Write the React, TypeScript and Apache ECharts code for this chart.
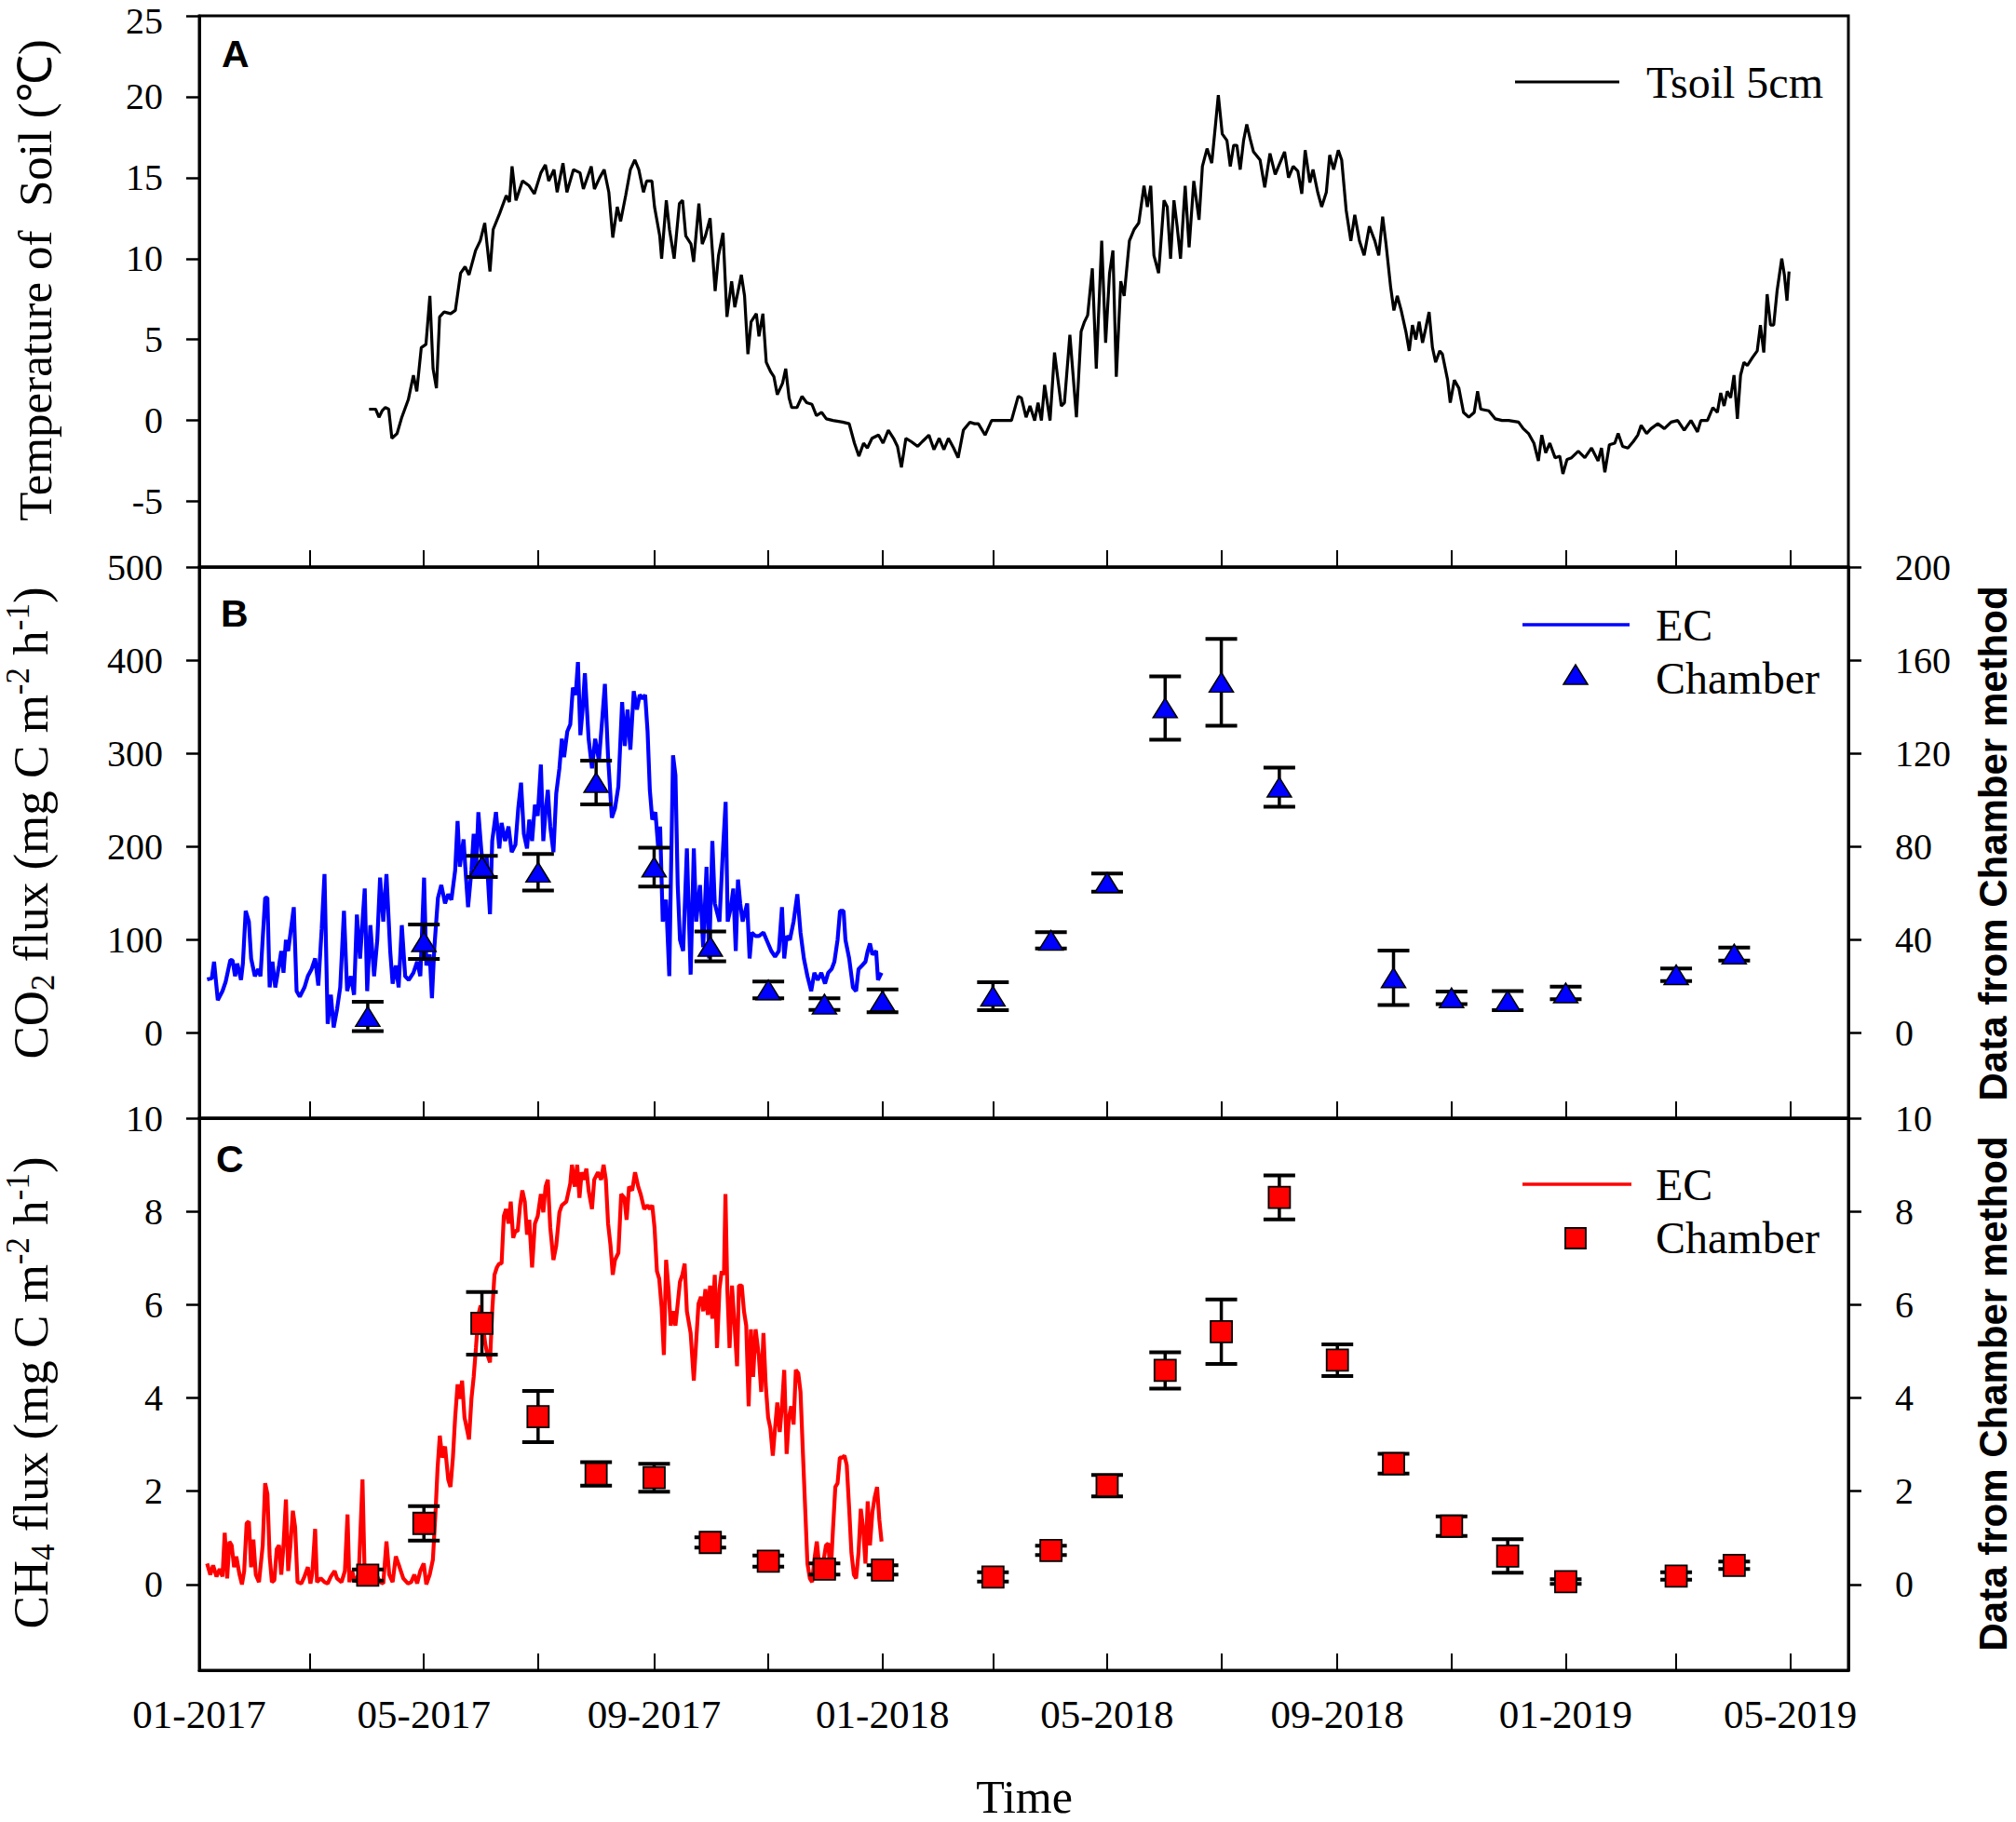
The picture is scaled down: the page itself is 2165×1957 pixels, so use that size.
import React, { useEffect, useRef } from "react";
import * as echarts from "echarts";

// ---------- data ----------
// x values: days since 01-01-2017
const xTickLabels = ["01-2017", "05-2017", "09-2017", "01-2018", "05-2018", "09-2018", "01-2019", "05-2019"];
const xMinorTickLabels = ["03-2017", "07-2017", "11-2017", "03-2018", "07-2018", "11-2018", "03-2019"];
const xEndMonth = "06-2019";

const tempTicks = [-5, 0, 5, 10, 15, 20, 25];
const co2Ticks = [0, 100, 200, 300, 400, 500];
const co2ChamberTicks = [0, 40, 80, 120, 160, 200];
const ch4Ticks = [0, 2, 4, 6, 8, 10];

const tsoil5cm = [
  [90.7,0.7],[94.2,0.7],[96,0.2],[97.7,0.6],[99.4,0.8],[101.2,0.7],[102.9,-1.1],[105.7,-0.8],[108.2,0.2],[111.7,1.3],[114.4,2.8],[116.2,1.8],[118.6,4.5],[121.1,4.7],[123.2,7.7],[124.9,3.2],[126.7,2.0],[128.4,6.4],[130.8,6.7],[134.3,6.6],[136.8,6.8],[139.6,9.1],[142,9.5],[144.1,9.0],[147.6,10.5],[150.1,11.1],[152.5,12.2],[155.3,9.2],[157,11.8],[160.5,12.8],[164,13.9],[165.7,13.5],[167.1,15.7],[169.2,13.6],[172.7,14.8],[176.2,14.5],[179,14.0],[182.5,15.3],[184.9,15.8],[186.7,14.8],[189.5,15.5],[191.2,14.1],[194.3,15.9],[196.4,14.1],[199.9,15.5],[203.4,15.3],[205.2,14.3],[209.4,15.7],[211.1,14.3],[213.9,15.0],[216.3,15.5],[218.8,14.1],[220.9,11.3],[223.3,13.2],[225.1,12.3],[227.8,13.9],[230.3,15.5],[232.7,16.1],[234.8,15.5],[237.3,14.1],[239,14.8],[241.8,14.8],[243.2,13.2],[246,11.4],[247,10.0],[249.5,13.6],[251.2,11.8],[253.7,10.0],[256.5,13.4],[258.2,13.6],[259.9,11.4],[262.7,10.9],[264.1,9.8],[266.9,13.4],[268.7,10.9],[270.4,11.4],[272.9,12.5],[275.6,8.0],[277.4,10.2],[279.8,11.6],[281.9,6.4],[284.4,8.6],[286.1,7.0],[289.6,9.0],[291.3,7.7],[293.1,4.1],[294.8,6.1],[297.6,6.6],[299,5.2],[301.1,6.6],[302.9,3.6],[305.3,3.0],[307,2.7],[308.8,1.6],[311.6,2.3],[313.3,3.2],[315.1,1.4],[316.5,0.8],[319.3,0.8],[322,1.5],[324.5,1.1],[327.3,1.0],[329.7,0.3],[332.5,0.5],[335,0.1],[338.5,0],[343.7,-0.1],[347.2,-0.2],[350,-1.4],[352.4,-2.2],[354.9,-1.4],[356.9,-1.7],[359.4,-1.1],[362.9,-0.9],[365.3,-1.4],[368.1,-0.6],[370.9,-1.1],[373,-1.6],[375.1,-2.9],[377.5,-1.1],[380.3,-1.3],[383.8,-1.6],[386.3,-1.3],[389.8,-0.9],[392.5,-1.8],[395.3,-1.1],[397.8,-1.8],[400.2,-1.1],[403,-1.7],[405.4,-2.3],[408.2,-0.6],[411.7,-0.1],[414.2,-0.2],[416.2,-0.2],[419.8,-0.9],[423.3,0],[433.9,0],[437.5,1.5],[439.2,1.4],[441.7,0.2],[443.8,0.9],[446.3,0],[448.1,1.1],[449.9,0],[451.6,2.2],[454.5,0],[456.9,4.2],[460.5,0.9],[462.2,1.1],[465.1,5.3],[468.6,0.2],[471.1,5.5],[472.9,6.1],[474.6,6.5],[477.1,9.4],[479.2,3.2],[482.1,11.1],[484.2,4.8],[486.3,9.1],[488.1,10.5],[489.9,2.7],[492.3,8.6],[494.1,7.7],[496.9,11.1],[499.4,11.8],[501.9,12.2],[504.7,14.5],[506.5,13.2],[508.3,14.5],[510,10.2],[512.5,9.1],[515.4,13.6],[517.1,13.2],[518.9,10.0],[520.7,13.6],[522.4,12.0],[524.2,10.0],[526.7,14.5],[528.8,10.7],[531.3,14.8],[534.1,12.4],[535.9,15.7],[538.4,16.8],[540.9,15.9],[543,18.4],[544.4,20.1],[546.5,17.7],[549,17.3],[550.8,15.7],[552.6,17.0],[554.3,17.0],[556.1,15.5],[557.9,17.3],[559.6,18.3],[561.4,17.4],[563.2,16.6],[566.7,16.1],[569.2,14.4],[572,16.5],[574.8,15.2],[577.3,15.9],[579.8,16.6],[581.9,15.0],[584.4,15.7],[586.9,15.4],[589,14.0],[590.8,16.7],[593.3,14.7],[595,15.5],[597.5,14.1],[599.6,13.2],[602.1,14.1],[603.9,16.4],[606,15.5],[608.5,16.7],[610.3,16.1],[612.7,13.0],[615.2,11.1],[617.3,12.7],[619.8,11.1],[622.3,10.2],[625.1,12.0],[628,11.1],[630.1,10.2],[632.2,12.6],[634,10.9],[636.5,8.2],[638.2,6.8],[640,7.7],[642.1,6.8],[644.6,5.5],[646.4,4.3],[648.1,5.9],[649.9,5.0],[651.7,6.1],[653.5,4.8],[655.2,5.7],[657,6.7],[658.8,4.5],[660.5,3.6],[662.7,4.3],[664.1,4.1],[666.9,2.5],[668.3,1.1],[670.5,2.5],[672.9,2.0],[675.4,0.5],[678.2,0.2],[681.1,0.5],[682.9,1.8],[684.6,0.7],[688.9,0.6],[692.4,0.1],[696,0],[699.5,0],[704.8,-0.1],[707.3,-0.5],[710.1,-0.8],[713,-1.4],[715.4,-2.5],[717.2,-0.9],[719.3,-2.0],[721.5,-1.4],[724.3,-2.3],[726.8,-2.2],[728.5,-3.3],[730.7,-2.4],[733.1,-2.3],[736.7,-1.9],[740.2,-2.3],[743.8,-1.7],[747.3,-2.5],[749.1,-1.7],[750.9,-3.2],[753.3,-1.5],[756.2,-1.4],[758,-0.8],[760.4,-1.6],[763.2,-1.7],[766.1,-1.3],[768.5,-0.9],[770.3,-0.3],[773.2,-0.8],[775.6,-0.5],[779.2,-0.2],[782.7,-0.5],[786.3,-0.1],[789.8,0],[793.3,-0.6],[796.9,0],[800.4,-0.7],[802.2,0],[805.7,0],[808.6,0.8],[811,0.5],[812.8,1.7],[814.6,0.9],[816.3,1.8],[818.1,1.4],[819.9,2.8],[821.7,0.1],[823.4,2.8],[825.2,3.6],[827,3.4],[829.8,3.9],[832.3,4.3],[834,5.9],[835.8,4.2],[837.6,7.8],[839.4,5.9],[841.1,5.9],[842.9,8.0],[845.4,10.0],[846.8,9.0],[848.2,7.4],[849.3,9.2]
];

const co2EC = [
  [4.2,57.6],[6.7,58.8],[7.9,76.5],[9.9,35.3],[12.4,45],[14.1,55],[16.6,78.4],[17.8,78],[19.1,61],[20.3,74.5],[22.3,57],[23.3,74.5],[24.8,131],[26.5,119.6],[27.7,80],[29.7,61],[31.5,68.6],[32.7,61],[35.2,145],[36.4,145],[37.6,49],[39.1,76.5],[40.6,49],[42.6,72.5],[43.8,88],[45,64.7],[46.3,100],[47.5,88],[49,111.8],[50.5,135],[52,45],[53.7,39],[56.2,49],[58,61],[60,68.6],[61.9,80],[63.6,51],[65.4,111.8],[66.9,170.6],[68.6,9.8],[70.3,41],[71.8,5.9],[73.6,25.5],[75.3,49],[77.3,131],[79,45],[81,61],[82.7,41],[84.2,127],[85.9,80],[87.2,119.6],[88.4,155],[89.7,45],[91.4,115.7],[93.4,61],[95.1,100],[96.6,166.7],[98.3,119.6],[100,170.6],[102,88],[103.3,53],[105,72.5],[106.5,49],[108.2,115.7],[110,61],[111.9,57],[114.4,64.7],[116.4,76.5],[118.1,61],[120.1,166.7],[121.3,72.5],[123.1,84.3],[124.3,37.3],[125.6,92],[127.5,145],[129.3,158.8],[131.3,139],[133,149],[134.7,143],[136.7,174.5],[138,227.5],[139.2,178.4],[141.2,207.8],[142.1,178.4],[143.6,135],[145.4,174.5],[146.6,213.7],[147.8,170.6],[149.1,237],[150.6,198],[152,166.7],[153.5,190],[155.3,127.5],[156.5,206],[158.5,237],[160.3,198],[161.5,225.5],[163.4,206],[165.2,221.6],[166.9,194],[168.9,202],[170.4,241],[171.9,268.6],[173.4,213.7],[175.1,198],[176.3,229],[177.8,206],[179.3,245],[180.8,233],[182.5,288],[183.8,206],[185,237],[186.2,260.8],[187.5,221.6],[189.2,194],[190.7,257],[192.4,284],[193.7,315.7],[194.9,296],[196.6,323.5],[198.2,331],[199.6,370.6],[201.1,362.7],[202.3,398],[203.6,319.6],[204.8,347],[206,386],[208,315.7],[209.8,284],[211.5,315.7],[213.5,292],[215.2,335],[216.7,374.5],[218.4,296],[220.4,231],[222.1,241],[223.9,264.7],[225.9,355],[227.3,308],[228.8,347],[230.3,304],[232.1,366.7],[233.8,347],[235.3,362.7],[237,358.8],[238.2,362.7],[239.5,323.5],[240.7,260.8],[242,229],[243.7,237],[245.2,198],[246.2,221.6],[247.6,119.6],[249.4,143],[251.1,61],[251.9,158.8],[253.1,298],[254.4,276.5],[255.6,158.8],[256.8,100],[258.5,88],[260.5,198],[262.5,62.7],[264.2,198],[265.5,119.6],[267.5,158.8],[269.2,92],[271,178.4],[272.4,80],[274.1,206],[275.4,139],[277.9,119.6],[279.6,190],[281.2,248],[282.3,119.6],[284,135],[285.3,155],[286.6,88],[287.8,164.7],[289,139],[290.3,119.6],[292.7,139],[294,80],[295.2,107.8],[297.2,104],[299,104],[301.4,107.8],[303.9,96],[305.6,88],[307.6,82],[309.6,88],[311.3,135],[312.5,80],[313.8,104],[315.5,100],[317.5,119.6],[319.5,149],[321.2,107.8],[323,80],[324.9,61],[326.9,45],[328.6,64.7],[330.4,57],[332.3,64.7],[334.3,53],[336,64.7],[337.8,68.6],[339.3,76.5],[341,100],[342.3,131],[344.2,131],[345.2,100],[347.2,80],[349.2,49],[350.9,45],[352.2,68.6],[354.1,72.5],[355.9,76.5],[357.1,88],[358.3,96],[359.6,84.3],[361.6,88],[362.6,57],[364.5,64.7]
];

const ch4EC = [
  [4.2,0.45],[5.9,0.21],[7.4,0.41],[9.2,0.17],[10.9,0.33],[12.4,0.17],[13.6,1.11],[14.9,0.13],[16.1,0.92],[17.3,0.84],[18.6,0.37],[19.8,0.6],[21.5,0.21],[22.8,0],[24,0.29],[25.3,1.31],[26.5,1.35],[27.7,0.37],[28.9,0.96],[30.2,0.21],[31.9,0.05],[33.9,0.84],[35.2,2.17],[36.4,1.94],[37.6,0.6],[38.8,0.05],[40.1,0.09],[41.4,0.76],[42.6,0.84],[43.8,0.21],[45,0.84],[46.3,1.82],[47.5,0.29],[48.7,0.84],[50,1.58],[51.2,1.23],[52.5,0.05],[54.5,0.02],[56.2,0.17],[58,0.37],[59.4,0.02],[60.4,0.25],[61.9,1.19],[62.9,0.05],[64.9,0.13],[66.9,0.05],[68.6,0.02],[70.3,0.17],[72.3,0.29],[73.6,0.13],[76,0.05],[77.8,0.29],[79.2,1.5],[80.2,0.05],[81.7,0.29],[83,0.05],[85.2,0.21],[87.2,2.25],[88.4,0.13],[90.9,0.13],[92.6,0.05],[94.6,0.21],[96.6,0.05],[98.3,0.02],[100,0.92],[101.5,0.21],[103.3,0.05],[105,0.6],[107,0.37],[109,0.13],[111.5,0.02],[113.2,0.05],[114.9,0.21],[116.4,0.02],[118.1,0.29],[119.9,0.45],[121.3,0],[123.1,0.21],[124.8,0.53],[126.3,1.62],[127.3,2.49],[128.5,3.19],[129.8,2.72],[131.3,2.96],[133,2.25],[134.2,2.09],[135.5,2.72],[136.7,3.58],[138,4.29],[139.2,3.98],[140.4,4.37],[141.7,3.58],[142.9,3.35],[144.1,3.11],[145.4,3.98],[146.6,4.45],[147.8,5.07],[149.1,5.78],[150.3,5.98],[151.6,5.55],[152.8,5.15],[154,4.92],[155.3,4.76],[156.5,5.86],[157.7,6.64],[159,6.8],[160.2,6.88],[161.5,6.88],[162.7,7.9],[163.9,8.05],[165.2,7.74],[166.4,8.21],[167.7,7.43],[168.9,7.58],[170.1,7.58],[171.4,8.13],[172.6,8.45],[173.9,8.21],[175.1,7.5],[176.3,7.82],[177.8,6.8],[179.3,7.74],[180.8,7.9],[182.5,8.37],[183.8,7.98],[185,8.53],[186.2,8.68],[187.5,7.66],[189.2,6.96],[190.7,7.27],[192.4,7.98],[193.7,8.13],[196.1,8.21],[198.2,8.6],[199.1,9.0],[200.6,8.53],[201.9,9.0],[203.1,8.29],[204.3,8.84],[205.6,8.68],[206.8,8.92],[208,8.45],[209.8,8.05],[211,8.68],[213,8.84],[214.7,8.68],[216,9.0],[217.2,8.68],[218.4,7.74],[219.7,7.27],[220.9,6.64],[222.1,6.96],[223.9,7.11],[225.4,8.37],[227.1,8.29],[228.3,7.82],[229.6,8.53],[231.3,8.45],[232.8,8.84],[234.5,8.53],[235.8,8.37],[237.7,8.05],[239.5,8.13],[240.7,8.05],[242,8.13],[243.2,7.66],[244.5,6.72],[245.7,6.56],[247,5.94],[248.2,4.92],[249.4,6.96],[250.7,6.33],[251.9,5.55],[253.1,5.86],[254.4,5.55],[255.6,6.02],[256.8,6.49],[258.1,6.64],[259.3,6.88],[260.5,5.86],[262.5,5.39],[264.2,4.37],[265.5,5.23],[266.7,6.02],[268,6.17],[269.2,5.86],[270.4,6.33],[271.7,5.78],[272.9,6.41],[274.1,5.7],[275.4,6.64],[276.6,5.07],[277.9,6.33],[279.1,6.72],[280.3,6.64],[281.1,8.37],[282.1,6.33],[283.3,5.07],[284.6,6.41],[286,5.55],[287.3,4.68],[288.3,6.41],[289.8,6.41],[291,5.86],[292.2,5.55],[293.5,3.82],[294.7,5.47],[295.9,4.45],[297.2,5.47],[298.9,4.92],[300.2,4.13],[301.4,5.39],[302.6,4.29],[303.9,3.58],[305.1,3.35],[306.4,2.76],[307.6,3.35],[308.8,3.9],[310.1,3.27],[311.3,3.82],[312.5,4.6],[313.8,2.8],[315,3.58],[316.2,3.82],[317.5,3.43],[318.7,4.6],[320,4.53],[321.2,4.13],[322.5,2.8],[323.7,1.62],[324.9,0.45],[326.2,0.13],[327.4,0.05],[328.6,0.53],[329.9,0.92],[331.1,0.45],[332.3,0.21],[333.6,0.53],[334.8,0.84],[336,0.88],[337.3,0.21],[338.5,1.15],[339.8,2.09],[341,2.17],[342.2,2.72],[343.5,2.72],[344.7,2.76],[345.9,2.56],[347.2,1.62],[348.4,0.68],[349.7,0.21],[350.9,0.13],[352.2,0.68],[353.4,1.62],[354.6,1.23],[355.9,0.45],[357.1,1.78],[358.3,0.84],[359.6,1.55],[360.8,1.86],[362.1,2.09],[363.3,1.39],[364.5,0.92]
];

// chamber measurements: date, mean, standard error
const co2ChamberDates = ["2017-04-01","2017-05-01","2017-06-01","2017-07-01","2017-08-01","2017-09-01","2017-10-01","2017-11-01","2017-12-01","2018-01-01","2018-03-01","2018-04-01","2018-05-01","2018-06-01","2018-07-01","2018-08-01","2018-10-01","2018-11-01","2018-12-01","2019-01-01","2019-03-01","2019-04-01"];
const co2ChamberMean = [7.1, 39.2, 71.5, 69, 107.5, 71.2, 37.2, 18.5, 12.4, 13.8, 15.8, 39.8, 64.6, 139.5, 150.5, 105.5, 23.7, 15.1, 13.9, 17.2, 25, 33.9];
const co2ChamberErr = [6.3, 7.4, 4.5, 7.8, 9.4, 8.3, 6.4, 3.6, 2.5, 4.9, 6.0, 3.5, 3.9, 13.6, 18.6, 8.4, 11.7, 2.7, 4.1, 2.7, 2.7, 2.8];

const ch4ChamberDates = ["2017-04-01","2017-05-01","2017-06-01","2017-07-01","2017-08-01","2017-09-01","2017-10-01","2017-11-01","2017-12-01","2018-01-01","2018-03-01","2018-04-01","2018-05-01","2018-06-01","2018-07-01","2018-08-01","2018-09-01","2018-10-01","2018-11-01","2018-12-01","2019-01-01","2019-03-01","2019-04-01"];
const ch4ChamberMean = [0.2, 1.31, 5.6, 3.6, 2.37, 2.29, 0.9, 0.5, 0.33, 0.31, 0.16, 0.73, 2.12, 4.59, 5.42, 8.3, 4.81, 2.59, 1.25, 0.61, 0.06, 0.18, 0.41];
const ch4ChamberErr = [0.12, 0.37, 0.67, 0.55, 0.25, 0.3, 0.11, 0.12, 0.12, 0.1, 0.1, 0.1, 0.23, 0.39, 0.69, 0.47, 0.34, 0.21, 0.21, 0.36, 0.05, 0.08, 0.08];

// ---------- helpers ----------
const ORIGIN = Date.UTC(2017, 0, 1);
const DAY = 86400000;
const dayOfMonthLabel = (s: string) => {
  const [mm, yyyy] = s.split("-");
  return (Date.UTC(+yyyy, +mm - 1, 1) - ORIGIN) / DAY;
};
const dayOfDate = (s: string) => {
  const [y, m, d] = s.split("-");
  return (Date.UTC(+y, +m - 1, +d) - ORIGIN) / DAY;
};

const SERIF = "Liberation Serif";
const SANS = "Liberation Sans";

export default function App() {
  const ref = useRef<HTMLDivElement>(null);

  useEffect(() => {
    if (!ref.current) return;
    const chart = echarts.init(ref.current, null, { renderer: "svg" });

    const labelDays = xTickLabels.map(dayOfMonthLabel);
    const tickDays = [...labelDays, ...xMinorTickLabels.map(dayOfMonthLabel)].sort((a, b) => a - b);
    const xMax = dayOfMonthLabel(xEndMonth);
    const labelFor = (v: number) => {
      const i = labelDays.findIndex((d) => Math.abs(d - v) < 0.5);
      return i >= 0 ? xTickLabels[i] : "";
    };

    const co2Chamber = co2ChamberDates.map((d, i) => [dayOfDate(d), co2ChamberMean[i], co2ChamberErr[i]]);
    const ch4Chamber = ch4ChamberDates.map((d, i) => [dayOfDate(d), ch4ChamberMean[i], ch4ChamberErr[i]]);

    const gridBase = { left: 214, width: 1771, show: true, borderColor: "#000", borderWidth: 3, backgroundColor: "transparent" };

    const xAxes = [0, 1, 2].map((i) => ({
      gridIndex: i,
      type: "value",
      min: 0,
      max: xMax,
      axisLine: { show: true, onZero: false, lineStyle: { color: "#000", width: 3 } },
      axisTick: { show: true, inside: true, length: 18, customValues: tickDays, lineStyle: { color: "#000", width: 2 } },
      axisLabel: {
        show: i === 2,
        customValues: labelDays,
        formatter: (v: number) => labelFor(v),
        margin: 26,
        fontFamily: SERIF,
        fontSize: 43,
        color: "#000",
      },
      splitLine: { show: false },
    }));

    const yAxisBase = (grid: number, min: number, max: number, ticks: number[], position: string, margin: number, padTop: boolean) => ({
      gridIndex: grid,
      type: "value",
      position,
      min,
      max,
      axisLine: { show: true, onZero: false, lineStyle: { color: "#000", width: 3 } },
      axisTick: { show: true, inside: false, length: 14, customValues: ticks, lineStyle: { color: "#000", width: 2.5 } },
      axisLabel: {
        customValues: ticks,
        margin,
        fontFamily: SERIF,
        fontSize: 40,
        color: "#000",
        formatter: (v: number) => (padTop && v === max ? "{top|" + v + "}" : "" + v),
        rich: { top: { fontFamily: SERIF, fontSize: 40, color: "#000", padding: [11, 0, 0, 0] } },
      },
      splitLine: { show: false },
    });

    const errorBars = (color: string) => (params: any, api: any) => {
      const x = api.value(0);
      const m = api.value(1);
      const e = api.value(2);
      const top = api.coord([x, m + e]);
      const bot = api.coord([x, m - e]);
      const hw = 17;
      const st = { stroke: color, lineWidth: 4 };
      return {
        type: "group",
        children: [
          { type: "line", shape: { x1: top[0], y1: top[1], x2: bot[0], y2: bot[1] }, style: { stroke: color, lineWidth: 3.5 } },
          { type: "line", shape: { x1: top[0] - hw, y1: top[1], x2: top[0] + hw, y2: top[1] }, style: st },
          { type: "line", shape: { x1: bot[0] - hw, y1: bot[1], x2: bot[0] + hw, y2: bot[1] }, style: st },
        ],
      };
    };

    const leftTitleRich = {
      m: { fontFamily: SERIF, fontSize: 53, lineHeight: 62, verticalAlign: "middle", fill: "#000" },
      s: { fontFamily: SERIF, fontSize: 35, lineHeight: 35, verticalAlign: "bottom", fill: "#000" },
      p: { fontFamily: SERIF, fontSize: 35, lineHeight: 35, verticalAlign: "top", fill: "#000" },
    };

    const vText = (x: number, y: number, text: string, extra: any) => ({
      type: "text",
      x,
      y,
      rotation: Math.PI / 2,
      style: {
        text,
        fill: "#000",
        align: "center",
        verticalAlign: "middle",
        textAlign: "center",
        textVerticalAlign: "middle",
        ...extra,
      },
    });

    const hText = (x: number, y: number, text: string, extra: any) => ({
      type: "text",
      x,
      y,
      style: {
        text,
        fill: "#000",
        align: "left",
        verticalAlign: "middle",
        textAlign: "left",
        textVerticalAlign: "middle",
        fontFamily: SERIF,
        fontSize: 48,
        ...extra,
      },
    });

    const option = {
      animation: false,
      backgroundColor: "#fff",
      textStyle: { fontFamily: SERIF, color: "#000" },
      grid: [
        { ...gridBase, top: 17, height: 592 },
        { ...gridBase, top: 609, height: 592 },
        { ...gridBase, top: 1201, height: 593 },
      ],
      xAxis: xAxes,
      yAxis: [
        yAxisBase(0, -9.05, 25, tempTicks, "left", 39, true),
        yAxisBase(1, -91.3, 500, co2Ticks, "left", 39, false),
        yAxisBase(1, -36.52, 200, co2ChamberTicks, "right", 50, false),
        yAxisBase(2, -1.84, 10, ch4Ticks, "left", 39, false),
        yAxisBase(2, -1.84, 10, ch4Ticks, "right", 50, false),
      ],
      series: [
        {
          name: "Tsoil 5cm",
          type: "line",
          xAxisIndex: 0,
          yAxisIndex: 0,
          data: tsoil5cm,
          showSymbol: false,
          lineStyle: { color: "#000", width: 3.2 },
          z: 2,
        },
        {
          name: "CO2 EC",
          type: "line",
          xAxisIndex: 1,
          yAxisIndex: 1,
          data: co2EC,
          showSymbol: false,
          lineStyle: { color: "#0000ff", width: 4.2 },
          z: 2,
        },
        {
          name: "CO2 Chamber error",
          type: "custom",
          xAxisIndex: 1,
          yAxisIndex: 2,
          data: co2Chamber,
          encode: { x: 0, y: 1 },
          renderItem: errorBars("#000"),
          z: 3,
        },
        {
          name: "CO2 Chamber",
          type: "scatter",
          xAxisIndex: 1,
          yAxisIndex: 2,
          data: co2Chamber.map((d) => [d[0], d[1]]),
          symbol: "triangle",
          symbolSize: [26, 21],
          itemStyle: { color: "#0000ff", borderColor: "#000", borderWidth: 1.5, opacity: 1 },
          z: 4,
        },
        {
          name: "CH4 EC",
          type: "line",
          xAxisIndex: 2,
          yAxisIndex: 3,
          data: ch4EC,
          showSymbol: false,
          lineStyle: { color: "#ff0000", width: 4.2 },
          z: 2,
        },
        {
          name: "CH4 Chamber error",
          type: "custom",
          xAxisIndex: 2,
          yAxisIndex: 4,
          data: ch4Chamber,
          encode: { x: 0, y: 1 },
          renderItem: errorBars("#000"),
          z: 3,
        },
        {
          name: "CH4 Chamber",
          type: "scatter",
          xAxisIndex: 2,
          yAxisIndex: 4,
          data: ch4Chamber.map((d) => [d[0], d[1]]),
          symbol: "rect",
          symbolSize: [23, 23],
          itemStyle: { color: "#ff0000", borderColor: "#000", borderWidth: 1.8, opacity: 1 },
          z: 4,
        },
      ],
      graphic: [
        // panel letters
        hText(238, 58, "A", { fontFamily: SANS, fontWeight: "bold", fontSize: 41 }),
        hText(237, 659, "B", { fontFamily: SANS, fontWeight: "bold", fontSize: 41 }),
        hText(232, 1245, "C", { fontFamily: SANS, fontWeight: "bold", fontSize: 41 }),
        // legend A
        { type: "line", shape: { x1: 1627, y1: 88, x2: 1739, y2: 88 }, style: { stroke: "#000", lineWidth: 3 } },
        hText(1768, 88, "Tsoil 5cm", {}),
        // legend B
        { type: "line", shape: { x1: 1635, y1: 671, x2: 1750, y2: 671 }, style: { stroke: "#0000ff", lineWidth: 3.5 } },
        hText(1778, 671, "EC", {}),
        {
          type: "polygon",
          shape: { points: [[1679, 735], [1705, 735], [1692, 714]] },
          style: { fill: "#0000ff", stroke: "#000", lineWidth: 1.5 },
        },
        hText(1778, 728, "Chamber", {}),
        // legend C
        { type: "line", shape: { x1: 1635, y1: 1272, x2: 1752, y2: 1272 }, style: { stroke: "#ff0000", lineWidth: 3.5 } },
        hText(1778, 1272, "EC", {}),
        { type: "rect", shape: { x: 1681, y: 1319, width: 22, height: 22 }, style: { fill: "#ff0000", stroke: "#000", lineWidth: 1.8 } },
        hText(1778, 1329, "Chamber", {}),
        // axis titles
        vText(38, 301, "Temperature of  Soil (\u2103)", { fontFamily: SERIF, fontSize: 51 }),
        vText(33, 884, "{m|CO}{s|2}{m| flux (mg C m}{p|-2}{m| h}{p|-1}{m|)}", { rich: leftTitleRich }),
        vText(33, 1496, "{m|CH}{s|4}{m| flux (mg C m}{p|-2}{m| h}{p|-1}{m|)}", { rich: leftTitleRich }),
        vText(2140, 906, "Data from Chamber method", { fontFamily: SANS, fontWeight: "bold", fontSize: 42 }),
        vText(2140, 1497, "Data from Chamber method", { fontFamily: SANS, fontWeight: "bold", fontSize: 42 }),
        {
          type: "text",
          x: 1100,
          y: 1930,
          style: {
            text: "Time",
            fill: "#000",
            align: "center",
            verticalAlign: "middle",
            textAlign: "center",
            textVerticalAlign: "middle",
            fontFamily: SERIF,
            fontSize: 50,
            lineHeight: 40,
          },
        },
      ],
    };

    chart.setOption(option as any);
    return () => chart.dispose();
  }, []);

  return <div ref={ref} style={{ position: "absolute", left: 0, top: 0, width: 2165, height: 1957 }} />;
}
